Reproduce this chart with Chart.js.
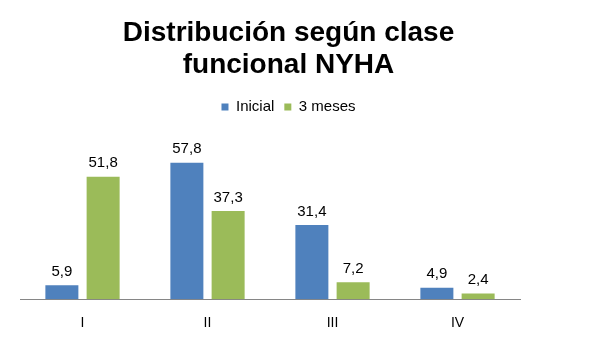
<!DOCTYPE html>
<html>
<head>
<meta charset="utf-8">
<script src="https://cdn.jsdelivr.net/npm/chart.js@4"></script>
<style>
  html, body { margin: 0; padding: 0; background: #fff; }
  #wrap { width: 597px; height: 355px; }
</style>
</head>
<body>
<div id="wrap"><canvas id="nyhaChart"></canvas></div>
<script>
// datos
const clases = ['I', 'II', 'III', 'IV'];
const inicial = [5.9, 57.8, 31.4, 4.9];
const tresMeses = [51.8, 37.3, 7.2, 2.4];

// etiquetas encima de las barras
const etiquetasBarras = {
    id: 'etiquetasBarras',
    afterDatasetsDraw(chart) {
        const ctx = chart.ctx;
        ctx.save();
        ctx.font = '15px "Liberation Sans", Arial, sans-serif';
        ctx.fillStyle = '#000';
        ctx.textAlign = 'center';
        ctx.textBaseline = 'bottom';
        chart.data.datasets.forEach((ds, i) => {
            chart.getDatasetMeta(i).data.forEach((bar, j) => {
                const txt = ds.data[j].toFixed(1).replace('.', ',');
                ctx.fillText(txt, bar.x, bar.y - 6);
            });
        });
        ctx.restore();
    }
};

document.addEventListener('DOMContentLoaded', () => {
    const ctx = document.getElementById('nyhaChart').getContext('2d');
    new Chart(ctx, {
        type: 'bar',
        data: {
            labels: clases,
            datasets: [{
                label: 'Inicial',
                data: inicial,
                backgroundColor: '#4F81BD'
            }, {
                label: '3 meses',
                data: tresMeses,
                backgroundColor: '#9BBB59'
            }]
        },
        options: {
            responsive: true,
            maintainAspectRatio: false,
            animation: false,
            layout: { padding: { left: 0, right: 20, top: 17, bottom: 15 } },
            categoryPercentage: 0.66,
            barPercentage: 0.8,
            plugins: {
                title: {
                    display: true,
                    text: ['Distribución según clase', 'funcional NYHA'],
                    color: '#000',
                    font: { family: '"Liberation Sans", Arial, sans-serif', size: 28, weight: 'bold', lineHeight: 1.15 },
                    padding: { top: 0, bottom: 8 }
                },
                legend: {
                    display: true,
                    labels: {
                        color: '#000',
                        boxWidth: 7,
                        boxHeight: 7,
                        padding: 10,
                        font: { family: '"Liberation Sans", Arial, sans-serif', size: 15 }
                    }
                },
                tooltip: { enabled: false }
            },
            scales: {
                x: {
                    grid: { display: false },
                    border: { display: true, color: '#868686', width: 1 },
                    ticks: {
                        color: '#000',
                        padding: 8,
                        font: { family: '"Liberation Sans", Arial, sans-serif', size: 14 }
                    }
                },
                y: {
                    min: 0,
                    max: 74,
                    grid: { display: false },
                    border: { display: false },
                    ticks: { display: false },
                    afterFit(scale) { scale.width = 20; }
                },
                y2: {
                    position: 'right',
                    min: 0,
                    max: 74,
                    grid: { display: false },
                    border: { display: false },
                    ticks: { display: false },
                    afterFit(scale) { scale.width = 57; }
                }
            }
        },
        plugins: [etiquetasBarras]
    });
});
</script>
</body>
</html>
